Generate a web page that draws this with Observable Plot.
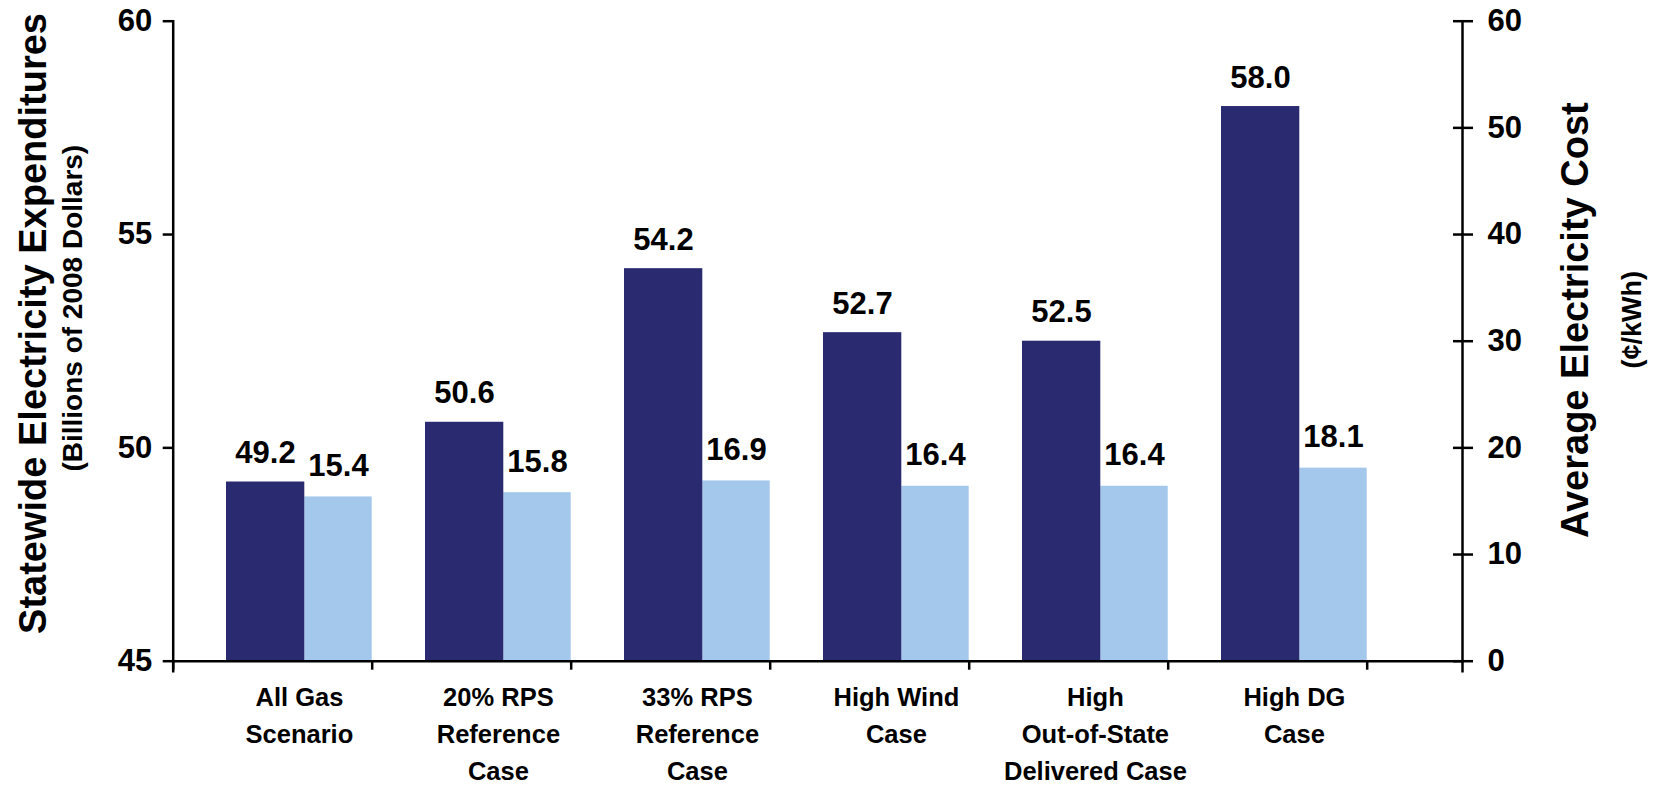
<!DOCTYPE html>
<html>
<head>
<meta charset="utf-8">
<script src="https://cdn.jsdelivr.net/npm/d3@7"></script>
<script src="https://cdn.jsdelivr.net/npm/@observablehq/plot@0.6"></script>
<style>
  body { margin: 0; background: #fff; }
  #chart { position: relative; width: 1655px; height: 787px; }
  #chart svg { position: absolute; left: 0; top: 0; }
</style>
</head>
<body>
<div id="chart"></div>
<script>
// Scenario names (line breaks as shown under the axis)
const categories = [
  "All Gas\nScenario",
  "20% RPS\nReference\nCase",
  "33% RPS\nReference\nCase",
  "High Wind\nCase",
  "High\nOut-of-State\nDelivered Case",
  "High DG\nCase"
];
// Statewide electricity expenditures, billions of 2008 dollars (left axis)
const expenditures = [49.2, 50.6, 54.2, 52.7, 52.5, 58.0];
// Average electricity cost, cents per kWh (right axis)
const avgCost = [15.4, 15.8, 16.9, 16.4, 16.4, 18.1];
const leftTicks = [45, 50, 55, 60];
const rightTicks = [0, 10, 20, 30, 40, 50, 60];

const rows = categories.map((name, i) => ({i, name, exp: expenditures[i], cost: avgCost[i]}));

const W = 1655, H = 787;
const margins = {marginTop: 20.7, marginRight: 193, marginBottom: 126.3, marginLeft: 172.7};
const step = 199;
const bandRange = [margins.marginLeft, margins.marginLeft + categories.length * step];
const FONT = '"Liberation Sans", Arial, Helvetica, sans-serif';
const DARK = "#2A2A70";
const LIGHT = "#A3C8EB";
const AXIS_W = 2.5;
const base = {
  width: W, height: H, ...margins,
  style: {background: "transparent", fontFamily: FONT, overflow: "visible"}
};
const bold = {fontWeight: "bold", fill: "black"};
const title = {text: d => d, rotate: -90, textAnchor: "middle", ...bold};

// Cost series on its own 0–60 scale, with the right-hand axis
const costPlot = Plot.plot({
  ...base,
  x: {type: "linear", domain: [0, categories.length], range: bandRange, axis: null},
  y: {domain: [0, 60]},
  marks: [
    Plot.rect(rows, {x1: "i", x2: d => d.i + 1, y1: 0, y2: "cost", insetLeft: 131.6, fill: LIGHT}),
    Plot.text(rows, {x: "i", y: "cost", text: d => d.cost.toFixed(1), dx: 165.3, dy: -21,
      lineAnchor: "bottom", fontSize: 31, ...bold}),
    // tick marks crossing the axis: outer half with labels, inner half without
    Plot.axisY({anchor: "right", ticks: rightTicks, tickSize: 10, tickPadding: 15,
      fontSize: 31, fontWeight: "bold", label: null, strokeWidth: AXIS_W}),
    Plot.axisY({anchor: "right", ticks: rightTicks, tickSize: 10, dx: -10, tickFormat: () => "",
      label: null, strokeWidth: AXIS_W}),
    Plot.frame({anchor: "right", insetBottom: -10, strokeWidth: AXIS_W}),
    Plot.text(["Average Electricity Cost"], {...title, frameAnchor: "right", dx: 113, dy: -21, fontSize: 38}),
    Plot.text(["(¢/kWh)"], {...title, frameAnchor: "right", dx: 170, dy: -21.5, fontSize: 27})
  ]
});

// Expenditure series on the 45–60 scale, with the left and bottom axes
const expPlot = Plot.plot({
  ...base,
  x: {type: "linear", domain: [0, categories.length], range: bandRange},
  y: {domain: [45, 60]},
  marks: [
    Plot.rect(rows, {x1: "i", x2: d => d.i + 1, y1: 45, y2: "exp", insetLeft: 53.3, insetRight: 67.4, fill: DARK}),
    Plot.text(rows, {x: "i", y: "exp", text: d => d.exp.toFixed(1), dx: 92.3, dy: -19,
      lineAnchor: "bottom", fontSize: 31, ...bold}),
    Plot.axisY({anchor: "left", ticks: leftTicks, tickSize: 10, tickPadding: 11,
      fontSize: 31, fontWeight: "bold", label: null, strokeWidth: AXIS_W}),
    Plot.axisX({ticks: d3.range(categories.length + 1), tickSize: 9, tickFormat: () => "",
      label: null, strokeWidth: AXIS_W}),
    Plot.frame({anchor: "left", insetBottom: -10, strokeWidth: AXIS_W}),
    Plot.frame({anchor: "bottom", strokeWidth: AXIS_W}),
    Plot.text(rows, {x: d => d.i + 0.5, y: 45, text: "name", dx: 26.7, dy: 19,
      lineAnchor: "top", lineHeight: 1.45, fontSize: 25.5, ...bold}),
    Plot.text(["Statewide Electricity Expenditures"], {...title, frameAnchor: "left", dx: -139.7, dy: -17.7, fontSize: 38}),
    Plot.text(["(Billions of 2008 Dollars)"], {...title, frameAnchor: "left", dx: -99.7, dy: -33, fontSize: 28})
  ]
});

const chart = document.getElementById("chart");
chart.append(costPlot, expPlot);
</script>
</body>
</html>
